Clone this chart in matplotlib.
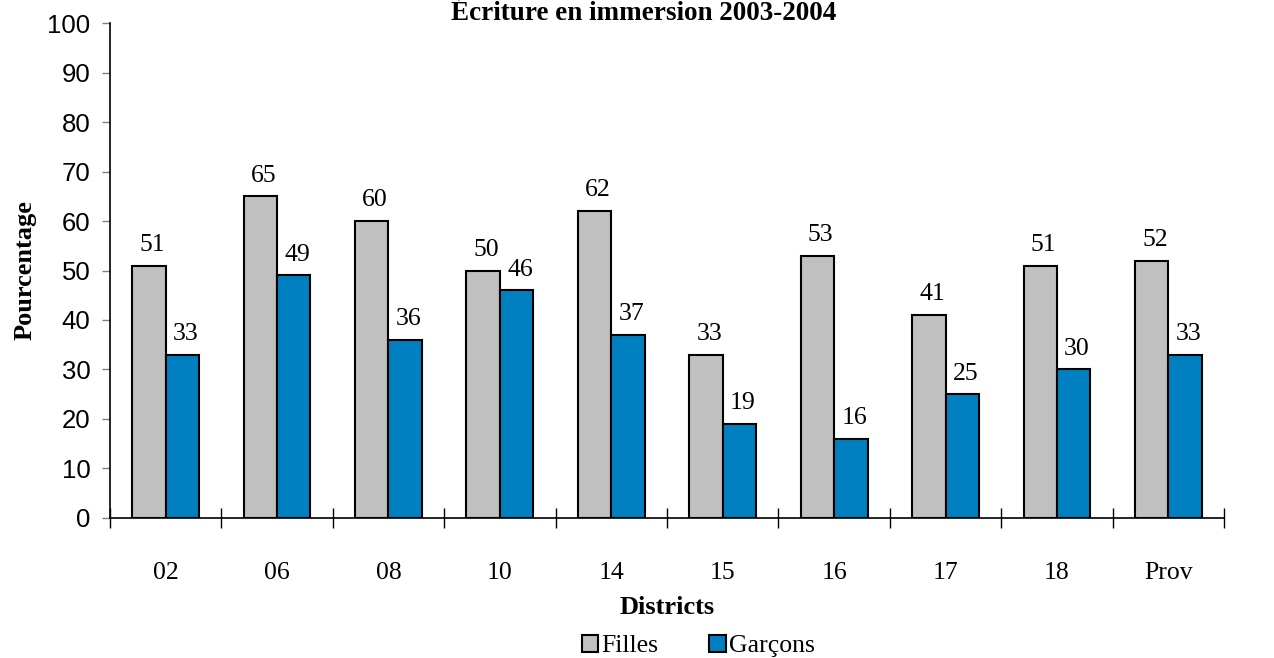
import matplotlib.pyplot as plt
import numpy as np

districts = ['02', '06', '08', '10', '14', '15', '16', '17', '18', 'Prov']
filles = [51, 65, 60, 50, 62, 33, 53, 41, 51, 52]
garcons = [33, 49, 36, 46, 37, 19, 16, 25, 30, 33]

serif = 'Liberation Serif'
sans = 'Liberation Sans'

fig = plt.figure(figsize=(12.74, 6.58), dpi=100)
ax = fig.add_axes([0.0863, 0.2128, 0.8745, 0.7522])

x = np.arange(len(districts))
w = 0.3
b1 = ax.bar(x - w / 2, filles, w, color='#c0c0c0', edgecolor='black', linewidth=1.5, label='Filles')
b2 = ax.bar(x + w / 2, garcons, w, color='#0080c0', edgecolor='black', linewidth=1.5, label='Garçons')

for rect, v in zip(b1, filles):
    ax.annotate(str(v), (rect.get_x() + rect.get_width() / 2 + 0.03, v), xytext=(0, 7),
                textcoords='offset points', ha='center', va='bottom', fontsize=18.5, family=serif)
for rect, v in zip(b2, garcons):
    ax.annotate(str(v), (rect.get_x() + rect.get_width() / 2 + 0.03, v), xytext=(0, 7),
                textcoords='offset points', ha='center', va='bottom', fontsize=18.5, family=serif)

ax.set_xlim(-0.5, len(districts) - 0.5)
ax.set_ylim(0, 100)
ax.set_yticks(range(0, 101, 10))
for lab in ax.get_yticklabels():
    lab.set_family(sans)
    lab.set_fontsize(18.5)

# category labels at centers, tick marks at boundaries
ax.set_xticks(x)
ax.set_xticklabels(districts, fontsize=18.5, family=serif)
ax.tick_params(axis='x', length=0, pad=32)
ax.set_xticks(np.arange(-0.5, len(districts) - 0.4, 1), minor=True)
ax.tick_params(axis='x', which='minor', direction='inout', length=14, width=1)
ax.tick_params(axis='y', direction='out', length=6, width=1, color='gray', pad=8)

for s in ['top', 'right']:
    ax.spines[s].set_visible(False)
ax.spines['left'].set_linewidth(1.2)
ax.spines['bottom'].set_linewidth(1.2)

ax.set_ylabel('Pourcentage', fontsize=19, fontweight='bold', family=serif, labelpad=8)
ax.set_xlabel('Districts', fontsize=19, fontweight='bold', family=serif, labelpad=8)
fig.text(0.505, 0.999, 'Écriture en immersion 2003-2004', ha='center', va='top',
         fontsize=19.5, fontweight='bold', family=serif)

fig.legend(loc='center', bbox_to_anchor=(0.548, 0.018), ncol=2, frameon=False,
           prop={'family': serif, 'size': 18.5}, handlelength=0.65, handleheight=0.65,
           handletextpad=0.1, columnspacing=2.0)

fig.savefig('out.png', dpi=100)
